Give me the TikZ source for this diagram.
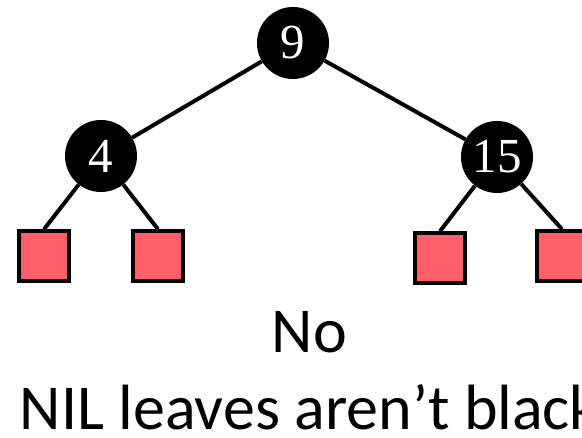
\documentclass[tikz,border=0pt]{standalone}
\usepackage{fontspec}
\setmainfont{Carlito}
\newfontfamily\digitfont{Liberation Serif}
\usetikzlibrary{calc}
\definecolor{nilred}{RGB}{255,95,105}
\tikzset{every picture/.style={x=1pt,y=-1pt}}
\tikzset{treenode/.style={circle,fill=black,text=white,inner sep=0pt,
	minimum size=72pt,font=\digitfont\fontsize{49}{49}\selectfont}}
\tikzset{nilleaf/.style={rectangle,draw=black,fill=nilred,line width=3.5pt,
	inner sep=0pt,minimum size=50pt}}
\tikzset{treeedge/.style={line width=4pt}}
\tikzset{caption/.style={anchor=base,inner sep=0pt,
	font=\fontsize{64}{64}\selectfont}}

\begin{document}
\begin{tikzpicture}
	\useasboundingbox (0,0) rectangle (582,438);
	\clip (0,0) rectangle (582,438);
	% the tree
	\node[treenode] (n9) at (293,43) {9};
	\node[treenode] (n4) at (101,156) {4};
	\node[treenode] (n15) at (497,157) {15};
	\node[nilleaf] (nil1) at (44,256) {};
	\node[nilleaf] (nil2) at (158,256) {};
	\node[nilleaf] (nil3) at (440,258) {};
	\node[nilleaf] (nil4) at (562,256) {};
	\draw[treeedge] (n9) -- (n4);
	\draw[treeedge] (n9) -- (n15);
	\draw[treeedge] (n4) -- (nil1.north);
	\draw[treeedge] (n4) -- (nil2.north);
	\draw[treeedge] (n15) -- (nil3.north);
	\draw[treeedge] (n15) -- (nil4.north);
	% the verdict underneath
	\node[caption] (no) at (309.5,353) {No};
	\node[caption] (why) at (309.5,430) {NIL leaves aren’t black};
\end{tikzpicture}
\end{document}
